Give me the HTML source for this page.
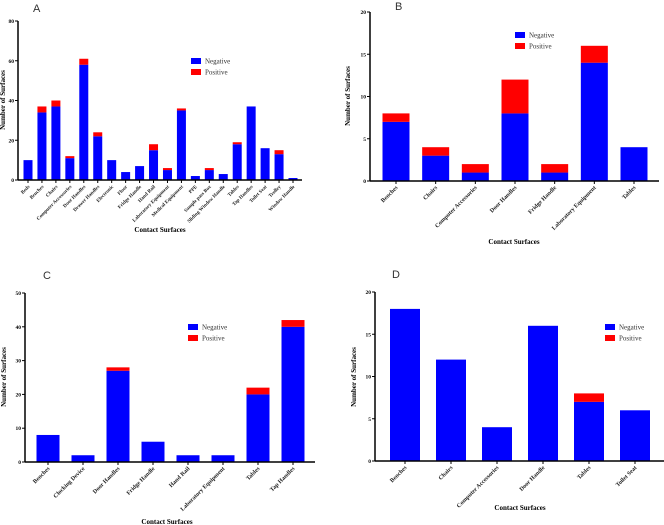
<!DOCTYPE html>
<html><head><meta charset="utf-8"><style>
body{margin:0;background:#fff;width:664px;height:525px;overflow:hidden}
svg{display:block;font-family:"Liberation Serif",serif}
</style></head><body>
<svg id="s" width="664" height="525"></svg>
<script>
const catsA=["Beds","Benches","Chairs","Computer Accessories","Door Handles","Drawer Handles","Electronic","Floor","Fridge Handle","Hand Rail","Laboratory Equipment","Medical Equipment","PPE","Sample pass Box","Sliding Window Handle","Tables","Tap Handles","Toilet Seat","Trolley","Window Handle"];
const negA=[10,34,37,11,58,22,10,4,7,15,5,35,2,5,3,18,37,16,13,1];
const posA=[0,3,3,1,3,2,0,0,0,3,1,1,0,1,0,1,0,0,2,0];
const ticksA=[0,20,40,60,80];
const catsB=["Benches","Chairs","Computer Accessories","Door Handles","Fridge Handle","Laboratory Equipment","Tables"];
const negB=[7,3,1,8,1,14,4];
const posB=[1,1,1,4,1,2,0];
const ticksB=[0,5,10,15,20];
const catsC=["Benches","Clocking Device","Door Handles","Fridge Handle","Hand Rail","Laboratory Equipment","Tables","Tap Handles"];
const negC=[8,2,27,6,2,2,20,40];
const posC=[0,0,1,0,0,0,2,2];
const ticksC=[0,10,20,30,40,50];
const catsD=["Benches","Chairs","Computer Accessories","Door Handle","Tables","Toilet Seat"];
const negD=[18,12,4,16,7,6];
const posD=[0,0,0,0,1,0];
const ticksD=[0,5,10,15,20];

const NS="http://www.w3.org/2000/svg";
const svg=document.getElementById('s');
function mk(t,a,p){const e=document.createElementNS(NS,t);for(const k in a)e.setAttribute(k,a[k]);(p||svg).appendChild(e);return e;}

function chart(id,o,cats,neg,pos,ticks){
  const g=mk('g',{});
  
  
  const ymax=ticks[ticks.length-1];
  const y=v=>o.y0-(o.y0-o.y1)*v/ymax;
  const x=i=>o.c0+(o.c1-o.c0)*i/(cats.length-1);
  const L=mk('text',{x:o.lx,y:o.ly,'font-family':'Liberation Sans,sans-serif','font-size':11,fill:'#333'},g);L.textContent=id;
  
  
  cats.forEach((c,i)=>{
    const b=mk('rect',{x:x(i)-o.bw/2,y:y(neg[i]),width:o.bw,height:y(0)-y(neg[i]),fill:'#0000ff'},g);
    
    
    if(pos[i]>0){
      const r=mk('rect',{x:x(i)-o.bw/2,y:y(neg[i]+pos[i]),width:o.bw,height:y(neg[i])-y(neg[i]+pos[i]),fill:'#ff0000'},g);
      
      
    }
    mk('line',{x1:x(i),x2:x(i),y1:o.y0,y2:o.y0+3,stroke:'#000','stroke-width':1},g);
    const t=mk('text',{x:0,y:0,'font-size':o.fs,'font-weight':'bold','text-anchor':'end',fill:'#222',transform:`translate(${x(i)+2},${o.y0+7}) rotate(-45)`},g);
    t.textContent=c;
    
    
  });
  mk('line',{x1:o.ax,x2:o.ax,y1:y(ymax),y2:o.y0,stroke:'#000','stroke-width':1.5},g);
  mk('line',{x1:o.ax,x2:o.ax1,y1:o.y0,y2:o.y0,stroke:'#000','stroke-width':1.5},g);
  ticks.forEach(v=>{
    mk('line',{x1:o.ax-3,x2:o.ax,y1:y(v),y2:y(v),stroke:'#000'},g);
    const t=mk('text',{x:o.ax-4,y:y(v)+2,'font-size':5.5,'font-weight':'bold','text-anchor':'end'},g);t.textContent=v;
    
    
  });
  const xt=mk('text',{x:o.xtx,y:o.xty,'font-size':7,'font-weight':'bold','text-anchor':'middle'},g);xt.textContent='Contact Surfaces';
  
  
  const yt=mk('text',{x:0,y:0,'font-size':7,'font-weight':'bold','text-anchor':'middle',transform:`translate(${o.ytx},${o.yty}) rotate(-90)`},g);yt.textContent='Number of Surfaces';
  
  
  [['Negative','#0000ff',0],['Positive','#ff0000',11]].forEach(([n,c,d])=>{
    const lg=mk('g',{},g);
    
    
    mk('rect',{x:o.lgx,y:o.lgy+d-3,width:10,height:6,fill:c},lg);
    const t=mk('text',{x:o.lgx+14,y:o.lgy+d+2.5,'font-size':7,fill:'#333'},lg);t.textContent=n;
  });
}
chart('A',{y0:180,y1:21,c0:28,c1:293,bw:9,ax:18,ax1:302,fs:5,lx:33,ly:12,xtx:160,xty:232,ytx:5,yty:100,lgx:191,lgy:61},catsA,negA,posA,ticksA);
chart('B',{y0:181,y1:12,c0:396,c1:634,bw:27,ax:370,ax1:659,fs:6,lx:395,ly:10,xtx:514,xty:244,ytx:350,yty:96,lgx:515,lgy:35},catsB,negB,posB,ticksB);
chart('C',{y0:462,y1:293,c0:48,c1:293,bw:23,ax:25,ax1:315,fs:6,lx:43,ly:279,xtx:167,xty:524,ytx:6,yty:377,lgx:188,lgy:327},catsC,negC,posC,ticksC);
chart('D',{y0:461,y1:292,c0:405,c1:635,bw:30,ax:375,ax1:664,fs:6,lx:392,ly:278,xtx:520,xty:510,ytx:356,yty:377,lgx:605,lgy:327},catsD,negD,posD,ticksD);
</script>
</body></html>
